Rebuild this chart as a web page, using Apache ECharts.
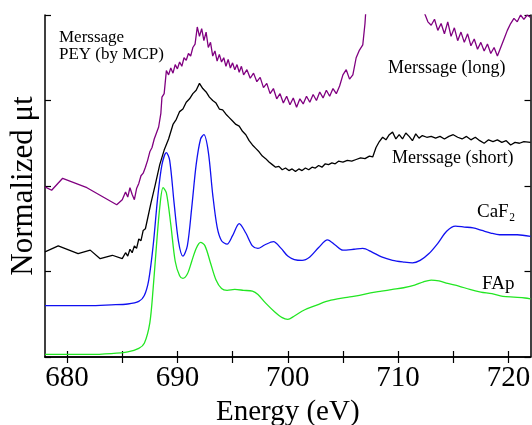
<!DOCTYPE html>
<html>
<head>
<meta charset="utf-8">
<title>Merssage XAS</title>
<script src="https://cdn.jsdelivr.net/npm/echarts@6/dist/echarts.min.js"></script>
<style>
  html, body { margin: 0; padding: 0; background: #fff; }
  #chart { width: 532px; height: 425px; }
</style>
</head>
<body>
<div id="chart"></div>
<script>
// x axis ticks (eV)
var tickValues = [680, 685, 690, 695, 700, 705, 710, 715, 720];
var labelValues = [680, 690, 700, 710, 720];

// [energy (eV), normalized mu t], curves stacked with offsets
var fapData = [
  [678,0.03],[680,0.03],[682,0.03],[684,0.04],[685.5,0.06],[686.5,0.10],[687.0,0.16],
  [687.5,0.40],[687.8,0.80],[688.1,1.30],[688.4,1.75],[688.7,1.98],[689.0,1.92],
  [689.4,1.55],[689.8,1.12],[690.2,0.95],[690.5,0.92],[690.9,0.97],[691.3,1.12],
  [691.7,1.27],[692.1,1.34],[692.5,1.30],[693.0,1.10],[693.5,0.90],[694.0,0.80],
  [694.5,0.78],[695.2,0.79],[696.0,0.78],[696.8,0.77],[697.3,0.73],[698.0,0.63],
  [698.8,0.53],[699.5,0.46],[700.0,0.44],[700.6,0.48],[701.5,0.55],[702.5,0.60],
  [703.5,0.65],[704.5,0.68],[705.5,0.70],[706.5,0.72],[707.5,0.75],[708.5,0.77],
  [709.5,0.79],[710.5,0.81],[711.5,0.84],[712.3,0.88],[713.0,0.90],[713.7,0.89],
  [714.5,0.86],[715.5,0.83],[716.5,0.79],[717.5,0.76],[718.5,0.74],[719.5,0.71],
  [720.5,0.70],[721.5,0.69],[722,0.68]
];

var caf2Data = [
  [678,0.60],[680,0.60],[682,0.60],[684,0.61],[685.5,0.62],[686.5,0.65],[687.0,0.72],
  [687.4,0.90],[687.8,1.30],[688.2,1.85],[688.6,2.25],[689.0,2.39],[689.3,2.30],
  [689.7,1.80],[690.1,1.35],[690.5,1.18],[690.9,1.30],[691.3,1.75],[691.7,2.25],
  [692.1,2.55],[692.4,2.60],[692.8,2.40],[693.2,1.90],[693.6,1.52],[694.0,1.36],
  [694.5,1.32],[695.0,1.42],[695.6,1.56],[696.2,1.45],[696.8,1.30],[697.3,1.27],
  [697.9,1.31],[698.7,1.35],[699.4,1.27],[700.0,1.18],[700.6,1.14],[701.3,1.13],
  [702.0,1.17],[702.8,1.28],[703.6,1.37],[704.3,1.31],[705.0,1.25],[706.0,1.26],
  [706.8,1.27],[707.6,1.23],[708.5,1.17],[709.5,1.13],[710.5,1.11],[711.3,1.10],
  [712.0,1.13],[712.8,1.21],[713.6,1.33],[714.4,1.47],[715.2,1.53],[716.0,1.52],
  [716.8,1.51],[717.6,1.48],[718.4,1.45],[719.2,1.43],[720.0,1.43],[720.8,1.43],
  [722,1.41]
];

var shortData = [
  [678,1.23],[679.2,1.30],[681,1.21],[682.1,1.25],[683,1.15],[684.1,1.19],[685,1.15],
  [685.3,1.22],[685.5,1.18],[685.7,1.26],[685.9,1.22],[686.1,1.30],[686.3,1.27],
  [686.5,1.38],[686.7,1.36],[686.9,1.48],[687.1,1.50],[687.3,1.62],[687.6,1.80],
  [688.0,2.02],[688.4,2.25],[688.8,2.42],[689.2,2.55],[689.6,2.72],[689.9,2.78],
  [690.2,2.87],[690.5,2.90],[690.8,2.98],[691.1,3.02],[691.4,3.08],[691.7,3.12],
  [692.0,3.20],[692.3,3.14],[692.6,3.10],[692.9,3.04],[693.2,3.00],[693.5,2.97],
  [693.8,2.90],[694.1,2.89],[694.4,2.84],[694.7,2.80],[695.0,2.76],[695.3,2.72],
  [695.6,2.70],[695.9,2.64],[696.2,2.60],[696.5,2.53],[696.8,2.48],[697.1,2.44],
  [697.4,2.40],[697.7,2.35],[698.0,2.32],[698.3,2.28],[698.6,2.25],[698.9,2.22],
  [699.2,2.23],[699.5,2.19],[699.8,2.21],[700.1,2.18],[700.4,2.20],[700.7,2.17],
  [701.0,2.20],[701.3,2.18],[701.6,2.21],[701.9,2.19],[702.2,2.22],[702.5,2.21],
  [702.8,2.24],[703.1,2.22],[703.4,2.26],[703.7,2.25],[704.0,2.27],[704.3,2.26],
  [704.6,2.29],[705.0,2.28],[705.4,2.30],[705.8,2.29],[706.2,2.31],[706.6,2.33],
  [707.0,2.32],[707.4,2.35],[707.7,2.34],[708.0,2.45],[708.3,2.52],[708.6,2.57],
  [708.9,2.54],[709.2,2.60],[709.5,2.63],[709.8,2.55],[710.1,2.60],[710.4,2.55],
  [710.7,2.62],[711.0,2.58],[711.3,2.53],[711.6,2.61],[711.9,2.56],[712.2,2.59],
  [712.6,2.57],[713.0,2.58],[713.4,2.56],[713.8,2.58],[714.2,2.55],[714.6,2.58],
  [715.0,2.60],[715.4,2.57],[715.8,2.55],[716.2,2.58],[716.6,2.54],[717.0,2.57],
  [717.4,2.53],[717.8,2.50],[718.2,2.54],[718.6,2.52],[719.0,2.54],[719.4,2.51],
  [719.8,2.53],[720.2,2.48],[720.6,2.51],[721.0,2.50],[721.4,2.52],[722,2.51]
];

var longData = [
  [678,1.99],[678.6,1.95],[679.6,2.09],[681.8,1.98],[684.5,1.78],[685.0,1.84],
  [685.3,1.93],[685.5,1.87],[685.7,1.98],[685.9,1.90],[686.1,1.84],[686.3,1.97],
  [686.5,2.03],[686.7,2.12],[686.9,2.15],[687.1,2.22],[687.3,2.30],[687.5,2.40],
  [687.7,2.45],[687.9,2.55],[688.1,2.62],[688.3,2.69],[688.5,2.85],[688.6,3.04],
  [688.8,3.08],[689.0,3.35],[689.2,3.30],[689.4,3.38],[689.6,3.32],[689.8,3.42],
  [690.0,3.37],[690.2,3.45],[690.4,3.40],[690.6,3.50],[690.8,3.47],[691.0,3.55],
  [691.2,3.52],[691.4,3.62],[691.6,3.66],[691.8,3.86],[692.0,3.75],[692.2,3.84],
  [692.4,3.70],[692.6,3.80],[692.8,3.62],[693.0,3.68],[693.2,3.52],[693.4,3.58],
  [693.6,3.46],[693.8,3.54],[694.0,3.45],[694.2,3.50],[694.4,3.40],[694.6,3.48],
  [694.8,3.38],[695.0,3.44],[695.2,3.36],[695.4,3.42],[695.6,3.33],[695.8,3.40],
  [696.0,3.30],[696.3,3.36],[696.6,3.26],[696.9,3.32],[697.2,3.22],[697.5,3.27],
  [697.8,3.15],[698.1,3.20],[698.4,3.08],[698.7,3.14],[699.0,3.02],[699.3,3.08],
  [699.6,2.97],[699.9,3.05],[700.2,2.95],[700.5,3.03],[700.8,2.92],[701.1,3.02],
  [701.4,2.96],[701.7,3.05],[702.0,2.98],[702.3,3.07],[702.6,3.00],[702.9,3.10],
  [703.2,3.03],[703.5,3.12],[703.8,3.05],[704.1,3.14],[704.4,3.08],[704.7,3.17],
  [705.0,3.30],[705.3,3.36],[705.6,3.25],[705.9,3.30],[706.2,3.50],[706.5,3.59],
  [706.8,3.65],[707.0,3.90],[707.2,4.30],[708,4.8],[709,5.0],[710,5.0],[711,4.8],
  [712,4.3],[712.4,4.02],[712.7,3.92],[713.0,3.88],[713.3,3.95],[713.6,3.82],
  [713.9,3.90],[714.2,3.78],[714.5,3.92],[714.8,3.75],[715.1,3.85],[715.4,3.70],
  [715.7,3.80],[716.0,3.68],[716.3,3.78],[716.6,3.64],[716.9,3.72],[717.2,3.60],
  [717.5,3.68],[717.8,3.58],[718.1,3.66],[718.4,3.55],[718.7,3.62],[719.0,3.52],
  [719.3,3.62],[719.6,3.72],[719.9,3.82],[720.2,3.90],[720.5,3.96],[720.8,3.92],
  [721.1,4.00],[721.4,3.95],[721.7,4.00],[722,3.97]
];

var serif = 'Liberation Serif';

var chart = echarts.init(document.getElementById('chart'), null, {renderer: 'canvas'});

function lineSeries(name, data, color, smooth) {
  return {
    name: name,
    type: 'line',
    data: data,
    showSymbol: false,
    clip: true,
    smooth: smooth,
    lineStyle: {color: color, width: 1.3},
    animation: false
  };
}

function note(text, left, top, size) {
  return {
    type: 'text', left: left, top: top,
    style: {text: text, fontFamily: serif, fontSize: size, fill: '#000', lineHeight: 17}
  };
}

var option = {
  backgroundColor: '#fff',
  animation: false,
  textStyle: {fontFamily: serif},
  grid: {left: 45, right: 1.5, top: 15, bottom: 68, containLabel: false, outerBoundsMode: 'none'},
  xAxis: [{
    type: 'value',
    position: 'bottom',
    min: 678,
    max: 722,
    name: 'Energy (eV)',
    nameLocation: 'middle',
    nameGap: 40,
    nameTextStyle: {fontFamily: serif, fontSize: 29, color: '#000'},
    axisLine: {lineStyle: {color: '#000', width: 1.5}},
    axisTick: {inside: true, length: 6, customValues: tickValues, lineStyle: {color: '#000', width: 1.2}},
    axisLabel: {customValues: labelValues, fontFamily: serif, fontSize: 29, color: '#000', margin: 7},
    splitLine: {show: false}
  }, {
    type: 'value',
    position: 'top',
    min: 678,
    max: 722,
    axisLine: {lineStyle: {color: '#000', width: 1.5}},
    axisTick: {inside: true, length: 6, customValues: tickValues, lineStyle: {color: '#000', width: 1.2}},
    axisLabel: {show: false},
    splitLine: {show: false}
  }],
  yAxis: [{
    type: 'value',
    position: 'left',
    min: 0,
    max: 4,
    interval: 1,
    name: 'Normalized μt',
    nameLocation: 'middle',
    nameGap: 6,
    nameTextStyle: {fontFamily: serif, fontSize: 31, color: '#000'},
    axisLine: {show: true, lineStyle: {color: '#000', width: 1.5}},
    axisTick: {show: true, inside: true, length: 6, lineStyle: {color: '#000', width: 1.2}},
    axisLabel: {show: false},
    splitLine: {show: false}
  }, {
    type: 'value',
    position: 'right',
    min: 0,
    max: 4,
    interval: 1,
    axisLine: {show: true, lineStyle: {color: '#000', width: 1.5}},
    axisTick: {show: true, inside: true, length: 6, lineStyle: {color: '#000', width: 1.2}},
    axisLabel: {show: false},
    splitLine: {show: false}
  }],
  series: [
    lineSeries('FAp', fapData, '#22e622', 0.3),
    lineSeries('CaF2', caf2Data, '#1010f0', 0.3),
    lineSeries('Merssage (short)', shortData, '#000000', false),
    lineSeries('Merssage (long)', longData, '#800080', false)
  ],
  graphic: [
    note('Merssage\nPEY (by MCP)', 59, 29, 17),
    note('Merssage (long)', 388, 59, 18),
    note('Merssage (short)', 392, 149, 18),
    note('CaF₂', 477, 203, 19),
    note('FAp', 482, 275, 19)
  ]
};

chart.setOption(option);
</script>
</body>
</html>
